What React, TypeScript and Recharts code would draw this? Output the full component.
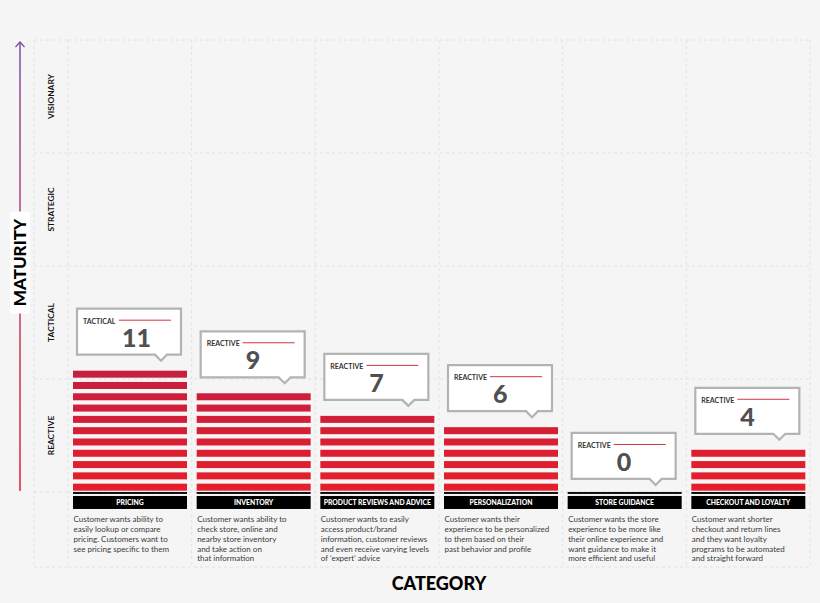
import { BarChart, Bar, XAxis, YAxis, CartesianGrid, LabelList } from 'recharts';

const categories = [
  'PRICING',
  'INVENTORY',
  'PRODUCT REVIEWS AND ADVICE',
  'PERSONALIZATION',
  'STORE GUIDANCE',
  'CHECKOUT AND LOYALTY',
];
const scores = [11, 9, 7, 6, 0, 4];
const levels = ['TACTICAL', 'REACTIVE', 'REACTIVE', 'REACTIVE', 'REACTIVE', 'REACTIVE'];
const descriptions = [
  ['Customer wants ability to', 'easily lookup or compare', 'pricing. Customers want to', 'see pricing specific to them'],
  ['Customer wants ability to', 'check store, online and', 'nearby store inventory', 'and take action on', 'that information'],
  ['Customer wants to easily', 'access product/brand', 'information, customer reviews', 'and even receive varying levels', "of \u2018expert\u2019 advice"],
  ['Customer wants their', 'experience to be personalized', 'to them based on their', 'past behavior and profile'],
  ['Customer wants the store', 'experience to be more like', 'their online experience and', 'want guidance to make it', 'more efficient and useful'],
  ['Customer want shorter', 'checkout and return lines', 'and they want loyalty', 'programs to be automated', 'and straight forward'],
];
const maturityLevels = ['REACTIVE', 'TACTICAL', 'STRATEGIC', 'VISIONARY'];
const yDomain = [-6.64, 40];
const yTicks = [-6.64, 0, 10, 20, 30, 40];

const data = categories.map((category, i) => ({
  category,
  score: scores[i],
  level: levels[i],
  desc: descriptions[i],
}));

const W = 820;
const H = 603;
const M = { top: 40, right: 10, bottom: 0, left: 34 };
const YAXIS_W = 34;
const XAXIS_H = 36;
const PLOT_H = H - M.top - M.bottom - XAXIS_H;
const UNIT = PLOT_H / (yDomain[1] - yDomain[0]);

const GRID = '#e2e2e2';
const FONT = 'Lato, "Open Sans", sans-serif';

const lerp = (a: number[], b: number[], t: number) =>
  `rgb(${a.map((v, k) => Math.round(v + (b[k] - v) * t)).join(',')})`;
const LOW = [228, 31, 43];
const HIGH = [198, 31, 63];

const StripedBar = (props: any) => {
  const { x, y, width, height, payload } = props;
  const base = y + height;
  const n = payload.score;
  const stripes = [];
  for (let i = 0; i < n; i++) {
    stripes.push(
      <rect
        key={i}
        x={x}
        y={base - (i + 1) * UNIT + 3}
        width={width}
        height={7}
        fill={lerp(LOW, HIGH, Math.min(i / 10, 1))}
      />
    );
  }
  return (
    <g>
      {stripes}
      <rect x={x} y={base} width={width} height={2} fill="#111" />
      <rect x={x} y={base + 4} width={width} height={13} fill="#000" />
      <text
        x={x + width / 2}
        y={base + 12.8}
        textAnchor="middle"
        fill="#fff"
        fontSize={6.8}
        fontWeight={900}
        fontFamily={FONT}
      >
        {payload.category}
      </text>
      {payload.desc.map((line: string, k: number) => (
        <text key={k} x={x + 0.5} y={base + 30.5 + k * 9.75} fill="#3a3a3a" fontSize={8} fontFamily={FONT}>
          {line}
        </text>
      ))}
    </g>
  );
};

const Callout = (props: any) => {
  const { x, y, index } = props;
  const left = x + 4;
  const top = y - 59;
  const w = 104;
  const h = 46;
  const right = left + w;
  const bottom = top + h;
  const px = right - 20;
  const path = `M${left},${top} H${right} V${bottom} H${px + 6} L${px},${bottom + 6} L${px - 6},${bottom} H${left} Z`;
  return (
    <g>
      <path d={path} fill="#fff" stroke="#b3b3b3" strokeWidth={2.2} />
      <text x={left + 6} y={top + 15} fill="#333" fontSize={7} fontWeight={700} fontFamily={FONT}>
        {levels[index]}
      </text>
      <line x1={left + 42} x2={right - 10} y1={top + 11.5} y2={top + 11.5} stroke="#d9333f" strokeWidth={1} />
      <text x={left + 45} y={top + 38} fill="#505050" fontSize={25} fontWeight={900} fontFamily={FONT}>
        {scores[index]}
      </text>
    </g>
  );
};

const MaturityTick = (props: any) => {
  const { y, payload } = props;
  const v = payload.value;
  const idx = maturityLevels.findIndex((_, k) => k * 10 === v);
  if (idx < 0) return null;
  const cx = M.left + YAXIS_W / 2;
  const cy = y - 5 * UNIT;
  return (
    <text
      x={cx}
      y={cy}
      transform={`rotate(-90, ${cx}, ${cy})`}
      textAnchor="middle"
      dominantBaseline="central"
      fill="#111"
      fontSize={8.4}
      fontWeight={700}
      fontFamily={FONT}
    >
      {maturityLevels[idx]}
    </text>
  );
};

const MaturityLabel = (props: any) => {
  const vb = props.viewBox;
  const ax = vb.x - 14;
  const top = vb.y + 2;
  const zeroY = vb.y + yDomain[1] * UNIT - 1;
  const mid = (top + zeroY) / 2 - 4;
  return (
    <g>
      <defs>
        <linearGradient id="matGrad" x1="0" y1="0" x2="0" y2="1">
          <stop offset="0%" stopColor="#7d4e9f" />
          <stop offset="45%" stopColor="#b8456f" />
          <stop offset="100%" stopColor="#df2230" />
        </linearGradient>
      </defs>
      <rect x={ax - 0.75} y={top} width={1.5} height={zeroY - top} fill="url(#matGrad)" />
      <path d={`M${ax - 4.5},${top + 5} L${ax},${top} L${ax + 4.5},${top + 5}`} fill="none" stroke="#7d4e9f" strokeWidth={1.2} />
      <rect x={ax - 10} y={mid - 51} width={20} height={102} fill="#fff" />
      <text
        x={ax}
        y={mid}
        transform={`rotate(-90, ${ax}, ${mid})`}
        textAnchor="middle"
        dominantBaseline="central"
        fill="#000"
        fontSize={17}
        fontWeight={900}
        fontFamily={FONT}
      >
        MATURITY
      </text>
    </g>
  );
};

const CategoryLabel = (props: any) => {
  const vb = props.viewBox;
  return (
    <text
      x={vb.x + vb.width / 2}
      y={vb.y + 23}
      textAnchor="middle"
      fill="#000"
      fontSize={18}
      fontWeight={900}
      fontFamily={FONT}
    >
      CATEGORY
    </text>
  );
};

export default function App() {
  return (
    <div style={{ position: 'absolute', left: 0, top: 0, width: W, height: H, background: '#f5f5f5' }}>
      <BarChart width={W} height={H} data={data} margin={M} barCategoryGap={5}>
        <CartesianGrid
          stroke={GRID}
          strokeDasharray="3 3"
          verticalCoordinatesGenerator={({ offset }: any) => {
            const xs = [offset.left - YAXIS_W];
            for (let i = 0; i <= categories.length; i++) xs.push(offset.left + (i * offset.width) / categories.length);
            return xs;
          }}
        />
        <XAxis
          dataKey="category"
          height={XAXIS_H}
          tick={false}
          tickLine={false}
          axisLine={false}
          label={{ content: CategoryLabel }}
        />
        <YAxis
          type="number"
          domain={yDomain}
          ticks={yTicks}
          interval={0}
          width={YAXIS_W}
          axisLine={false}
          tickSize={YAXIS_W}
          tickMargin={0}
          tickLine={{ stroke: GRID, strokeDasharray: '3 3' }}
          tick={MaturityTick}
          label={{ content: MaturityLabel }}
        />
        <Bar dataKey="score" shape={StripedBar} isAnimationActive={false}>
          <LabelList dataKey="score" content={Callout} />
        </Bar>
      </BarChart>
    </div>
  );
}
